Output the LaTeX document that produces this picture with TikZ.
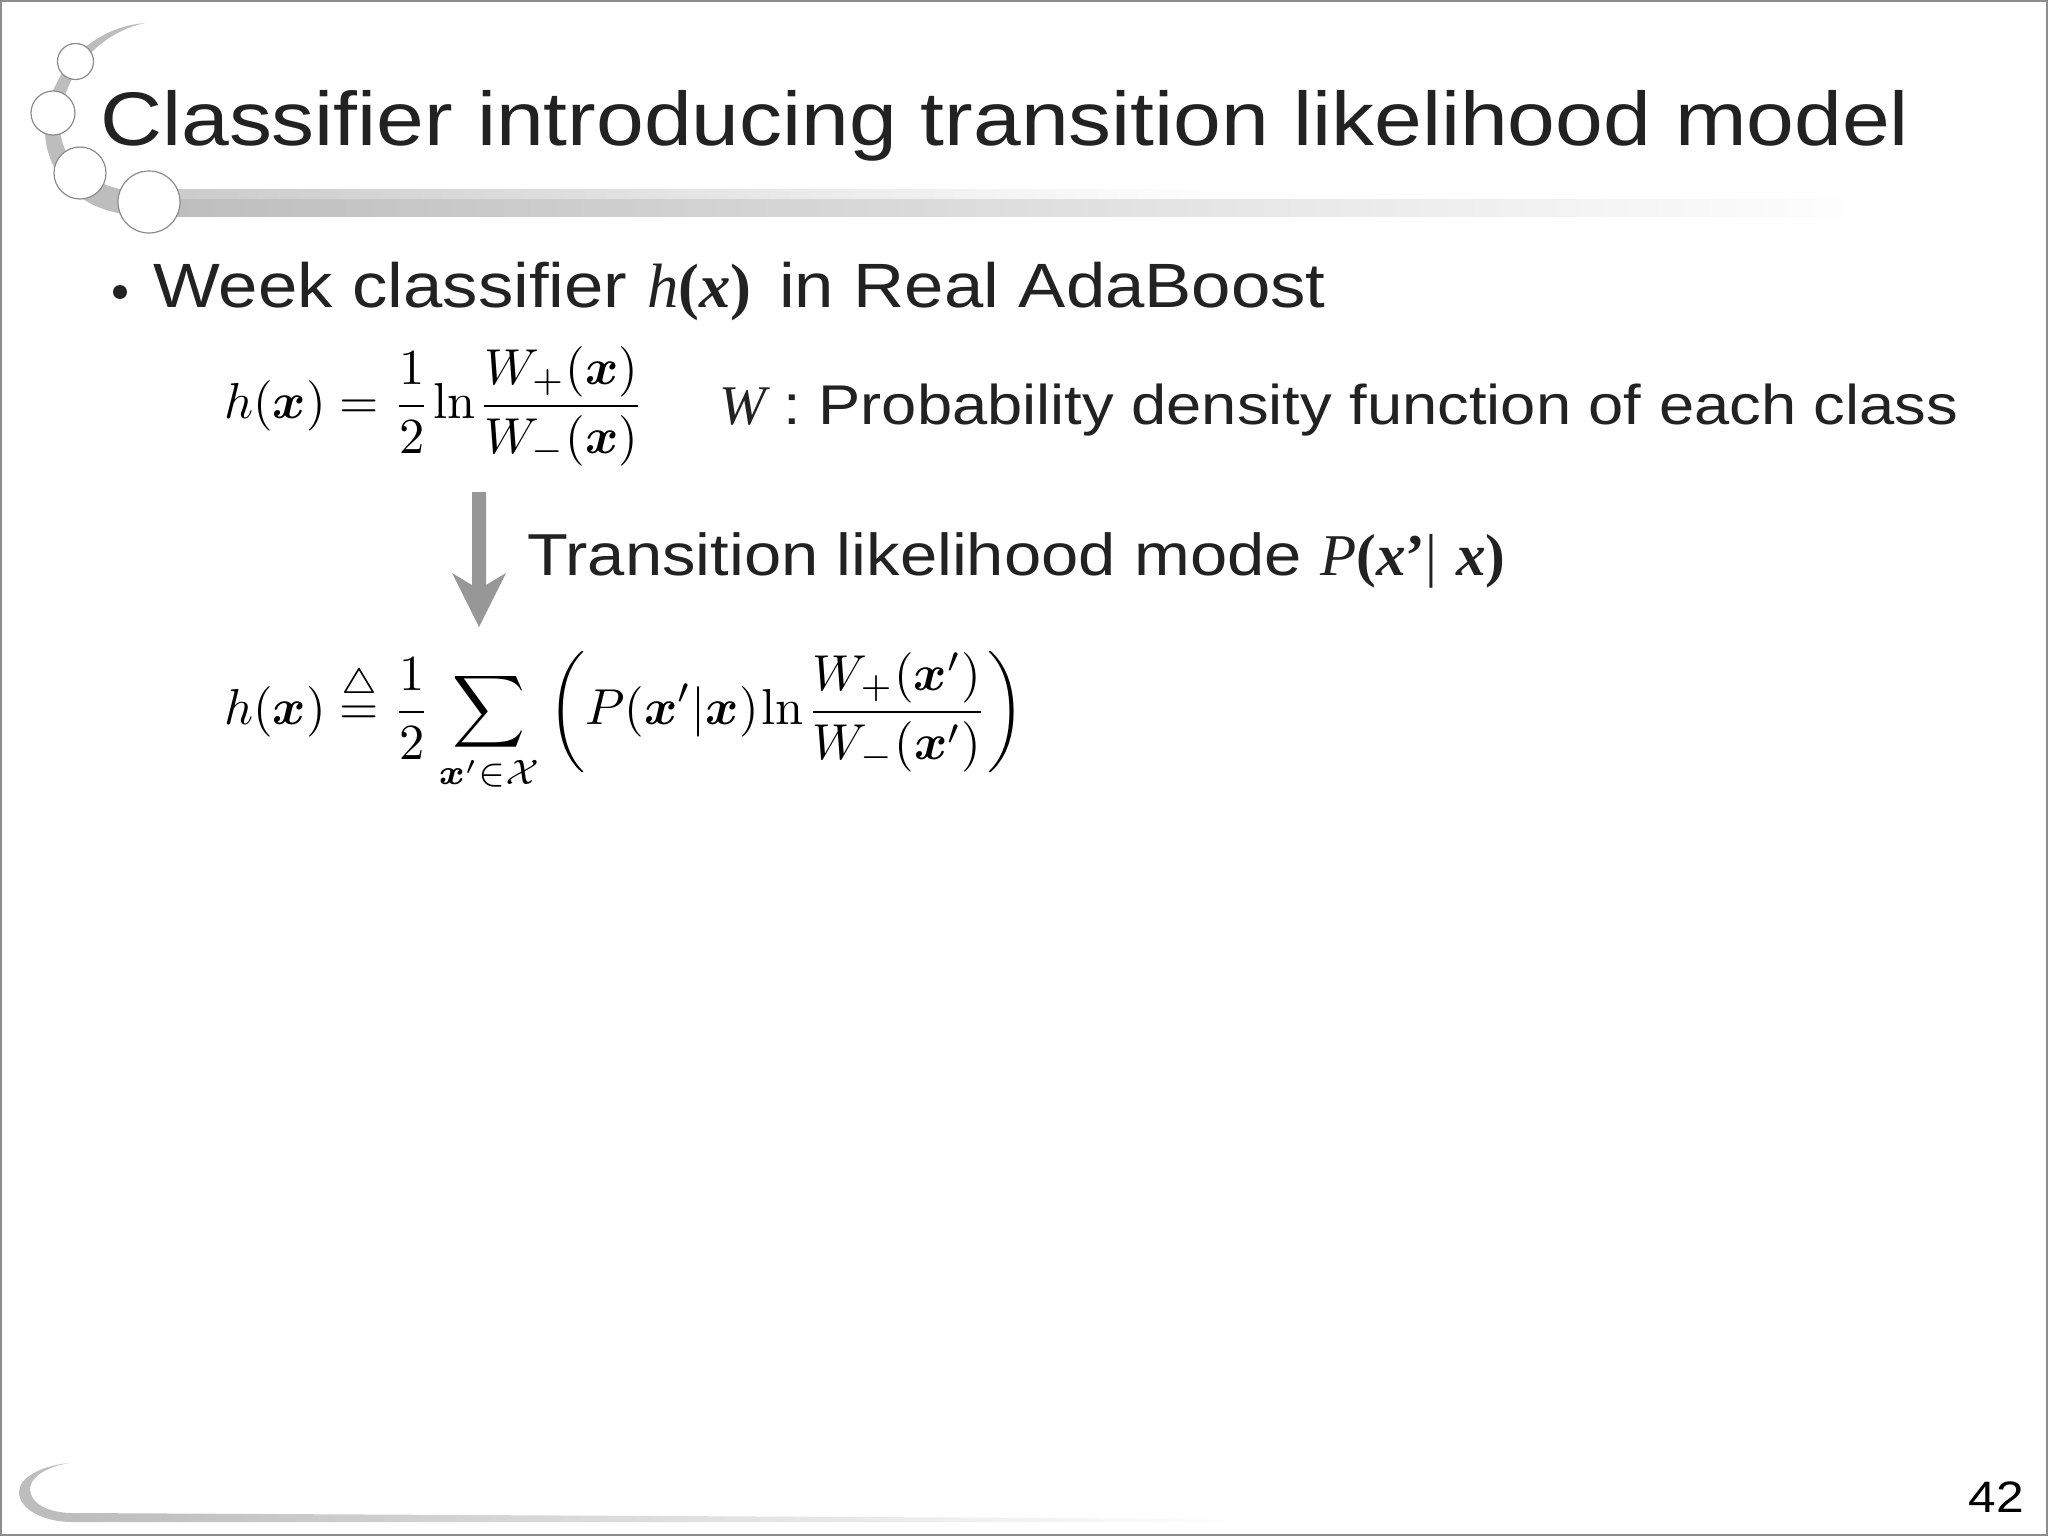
\documentclass[tikz,border=0pt]{standalone}
\usepackage{amsmath,amssymb,bm}
\usepackage[no-math]{fontspec}
\setmainfont[FakeStretch=1.13]{Liberation Sans}
\newfontfamily\serifit{Liberation Serif}
\definecolor{ink}{HTML}{222222}
\definecolor{swoosh}{HTML}{BDBDBD}
\definecolor{ringc}{HTML}{8C8C8C}
\newcommand{\sit}[1]{{\serifit\itshape #1}}
\newcommand{\sbi}[1]{{\serifit\bfseries\itshape #1}}
\newcommand{\sbu}[1]{{\serifit\bfseries #1}}
\tikzset{
  x=1pt,y=-1pt,
  ring/.style={circle,draw=ringc,fill=white,line width=1.2pt,inner sep=0pt},
  title/.style={anchor=base west,inner sep=0pt,text=ink,font=\fontsize{76}{80}\selectfont},
  body/.style={anchor=base west,inner sep=0pt,text=ink,font=\fontsize{62.6}{70}\selectfont},
  small/.style={anchor=base west,inner sep=0pt,text=ink,font=\fontsize{56}{60}\selectfont},
  mid/.style={anchor=base west,inner sep=0pt,text=ink,font=\fontsize{59.2}{66}\selectfont},
  formula/.style={anchor=base west,inner sep=0pt,scale=5.05,text=black},
}
\begin{document}
\begin{tikzpicture}
\useasboundingbox (0,0) rectangle (2048,1536);
\fill[white] (0,0) rectangle (2048,1536);
\draw[color=ringc,line width=1.6pt] (0.8,0.8) rectangle (2047.2,1535.2);
% top swoosh
\fill[swoosh] (145,23) .. controls (85,28) and (45,80) .. (45,130) .. controls (45,170) and (75,208) .. (125,214) -- (125,190) .. controls (95,185) and (60,165) .. (60,125) .. controls (60,85) and (90,35) .. (145,23) -- cycle;
\shade[left color=swoosh!80,right color=white] (149,189) rectangle (1230,198);
\shade[left color=swoosh,right color=white] (149,199) rectangle (1880,216);
\node[ring,minimum size=36pt] (c1) at (75.5,61.5) {};
\node[ring,minimum size=44pt] (c2) at (53,113) {};
\node[ring,minimum size=52pt] (c3) at (80,173) {};
\node[ring,minimum size=62pt] (c4) at (149,202) {};
% bottom swoosh
\fill[swoosh] (69,1463) .. controls (40,1466) and (19,1478) .. (19,1492) .. controls (19,1510) and (45,1522) .. (72,1522) -- (72,1513) .. controls (48,1513) and (30,1503) .. (30,1489) .. controls (30,1478) and (45,1467) .. (69,1463) -- cycle;
\shade[left color=swoosh,right color=white] (72,1513) -- (72,1522) -- (1250,1522) -- (1250,1519) -- cycle;
% texts
\node[title] (t) at (100,146) {Classifier introducing transition likelihood model};
\fill[ink] (120,292) circle (7);
\node[body] (b1) at (153,307) {Week classifier \sit{h}\sbu{(}\sbi{x}\sbu{)}\kern8pt{} in Real AdaBoost};
\node[formula] (e1) at (223,418.5) {$h(\bm{x})=\dfrac{1}{2}\mkern1mu\mathrm{ln}\mkern1mu\dfrac{W_{+}(\bm{x})}{W_{-}(\bm{x})}$};
\node[small] (w) at (719,424) {\sit{W} : Probability density function of each class};
\node[formula] (e2) at (223,724.5) {$h(\bm{x})\stackrel{\triangle}{=}\dfrac{1}{2}\displaystyle\sum_{\bm{x}'\in\mathcal{X}}\bigg(P(\bm{x}'|\bm{x})\mkern1mu\mathrm{ln}\mkern1mu\dfrac{W_{+}(\bm{x}')}{W_{-}(\bm{x}')}\bigg)$};
\node[mid] (m) at (527,575) {Transition likelihood mode \sit{P}\sbu{(}\sbi{x}\sbu{’}{\serifit|} \sbi{x}\sbu{)}};
\fill[color=ringc!90!white] (472,492) -- (472,585) -- (452,573) -- (479,627) -- (506,573) -- (486,585) -- (486,492) -- cycle;
\node[anchor=base east,inner sep=0pt,text=black,font=\fontsize{44}{50}\selectfont] (pg) at (2024,1512) {42};
\end{tikzpicture}
\end{document}
